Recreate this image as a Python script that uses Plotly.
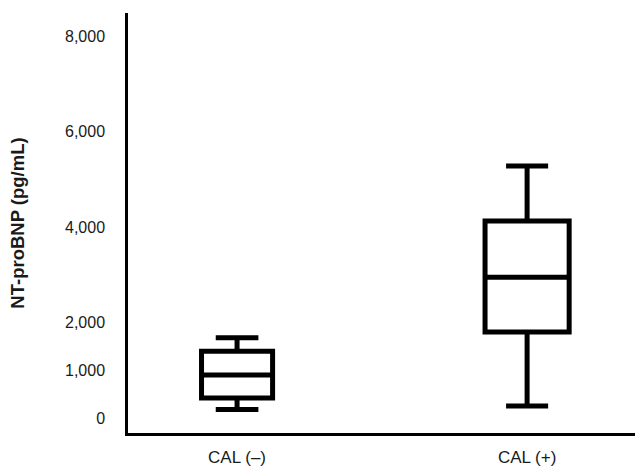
import plotly.graph_objects as go

categories = ["CAL (–)", "CAL (+)"]
q1 = [420, 1800]
median = [900, 2950]
q3 = [1400, 4130]
lower_whisker = [180, 250]
upper_whisker = [1680, 5280]
tick_values = [0, 1000, 2000, 4000, 6000, 8000]
tick_labels = ["0", "1,000", "2,000", "4,000", "6,000", "8,000"]

box_widths = [0.245, 0.29]
cap_fracs = [0.6, 0.5]

FONT = "Liberation Sans, Arial, Helvetica, sans-serif"

fig = go.Figure()
for i, cat in enumerate(categories):
    fig.add_trace(go.Box(
        x=[cat], q1=[q1[i]], median=[median[i]], q3=[q3[i]],
        lowerfence=[lower_whisker[i]], upperfence=[upper_whisker[i]],
        width=box_widths[i], whiskerwidth=cap_fracs[i],
        boxpoints=False,
        line=dict(color="black", width=5),
        fillcolor="white",
        showlegend=False,
        hoverinfo="skip",
    ))

fig.update_layout(
    width=643, height=471,
    margin=dict(l=128, r=8, t=13, b=38),
    paper_bgcolor="white", plot_bgcolor="white",
    font=dict(family=FONT, size=16, color="#1a1a1a"),
    xaxis=dict(
        type="category", categoryorder="array", categoryarray=categories,
        range=[-0.376, 1.372], automargin=False,
        showline=True, linecolor="black", linewidth=2.5,
        showgrid=False, zeroline=False, ticks="",
        ticklabelstandoff=7,
        tickfont=dict(family=FONT, size=17, color="#1a1a1a"),
    ),
    yaxis=dict(
        range=[-314, 8485], automargin=False,
        tickvals=tick_values, ticktext=tick_labels,
        showline=True, linecolor="black", linewidth=2.5,
        showgrid=False, zeroline=False, ticks="",
        ticklabelstandoff=17,
        tickfont=dict(family=FONT, size=16, color="#1a1a1a"),
        title=dict(text="<b>NT-proBNP (pg/mL)</b>", standoff=36,
                   font=dict(family=FONT, size=18.5, color="#1a1a1a")),
    ),
)

fig.write_html("out.html",
               config={"displayModeBar": False},
               post_script="document.body.style.margin='0';document.body.style.overflow='hidden';")
